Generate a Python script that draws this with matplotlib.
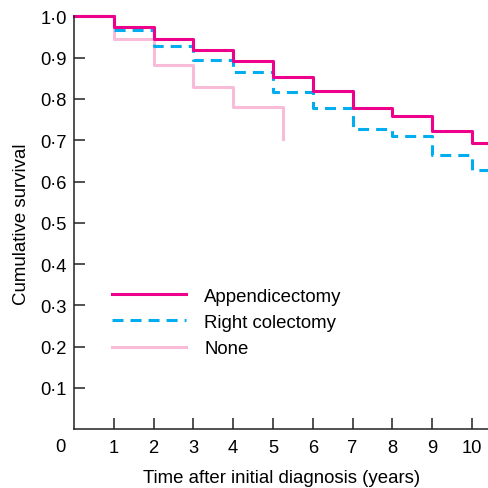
import matplotlib
matplotlib.use("Agg")
import matplotlib.pyplot as plt
import matplotlib.transforms as mtrans

plt.rcParams['font.family'] = ['Liberation Sans', 'DejaVu Sans']

# Kaplan-Meier type curves
t_app = [0, 1, 2, 3, 4, 5, 6, 7, 8, 9, 10, 10.45]
s_app = [1.0, 0.974, 0.944, 0.918, 0.892, 0.852, 0.819, 0.779, 0.759, 0.723, 0.693, 0.693]

t_col = [0, 1, 2, 3, 4, 5, 6, 7, 8, 9, 10, 10.45]
s_col = [1.0, 0.968, 0.929, 0.894, 0.866, 0.816, 0.777, 0.727, 0.709, 0.664, 0.628, 0.628]

t_none = [0, 1, 2, 3, 4, 5.26]
s_none = [1.0, 0.944, 0.882, 0.828, 0.780, 0.703]

labels = ['Appendicectomy', 'Right colectomy', 'None']
xticks = [1, 2, 3, 4, 5, 6, 7, 8, 9, 10]
yticks = [0.1, 0.2, 0.3, 0.4, 0.5, 0.6, 0.7, 0.8, 0.9, 1.0]

fig = plt.figure(figsize=(4.89, 4.89), dpi=100)
ax = fig.add_axes([74/489, 58.7/489, 415/489, 413/489])

fs = 13.2
fs_lab = 13.4
lw = 2.2
l3, = ax.step(t_none, s_none, where='post', color='#f9bcd8', lw=lw, clip_on=False)
l2, = ax.step(t_col, s_col, where='post', color='#00aeef', lw=lw, dashes=(3.6, 2.3), clip_on=False)
l1, = ax.step(t_app, s_app, where='post', color='#ec008c', lw=lw, clip_on=False)

ax.set_xlim(0, 10.43)
ax.set_ylim(0, 1.0)
ax.spines['top'].set_visible(False)
ax.spines['right'].set_visible(False)
for sp in ['left', 'bottom']:
    ax.spines[sp].set_linewidth(1.1)
    ax.spines[sp].set_color('#222222')

ax.set_xticks(xticks)
ax.set_xticklabels([str(x) for x in xticks])
ax.set_yticks(yticks)
ax.set_yticklabels([('%.1f' % y).replace('.', '\u00b7') for y in yticks])
ax.tick_params(axis='x', direction='in', length=8, width=1.1, labelsize=fs, pad=7, color='#222222')
ax.tick_params(axis='y', direction='in', length=8, width=1.1, labelsize=fs, pad=5, color='#222222')

# shared origin label
tr = mtrans.offset_copy(ax.transData, fig=fig, x=-14, y=-17, units='dots')
ax.text(0, 0, '0', transform=tr, ha='center', va='center', fontsize=fs)

ax.set_xlabel('Time after initial diagnosis (years)', fontsize=fs_lab)
ax.xaxis.set_label_coords(0.5, -0.095)
ax.set_ylabel('Cumulative survival', fontsize=fs_lab)
ax.yaxis.set_label_coords(-0.107, 0.5)

ax.legend([l1, l2, l3], labels, frameon=False, fontsize=fs_lab, loc='center left',
          bbox_to_anchor=(0.0916, 0.259), borderpad=0, borderaxespad=0,
          handlelength=4.0, handletextpad=0.95, labelspacing=0.5)

fig.savefig('out.png', dpi=100)
